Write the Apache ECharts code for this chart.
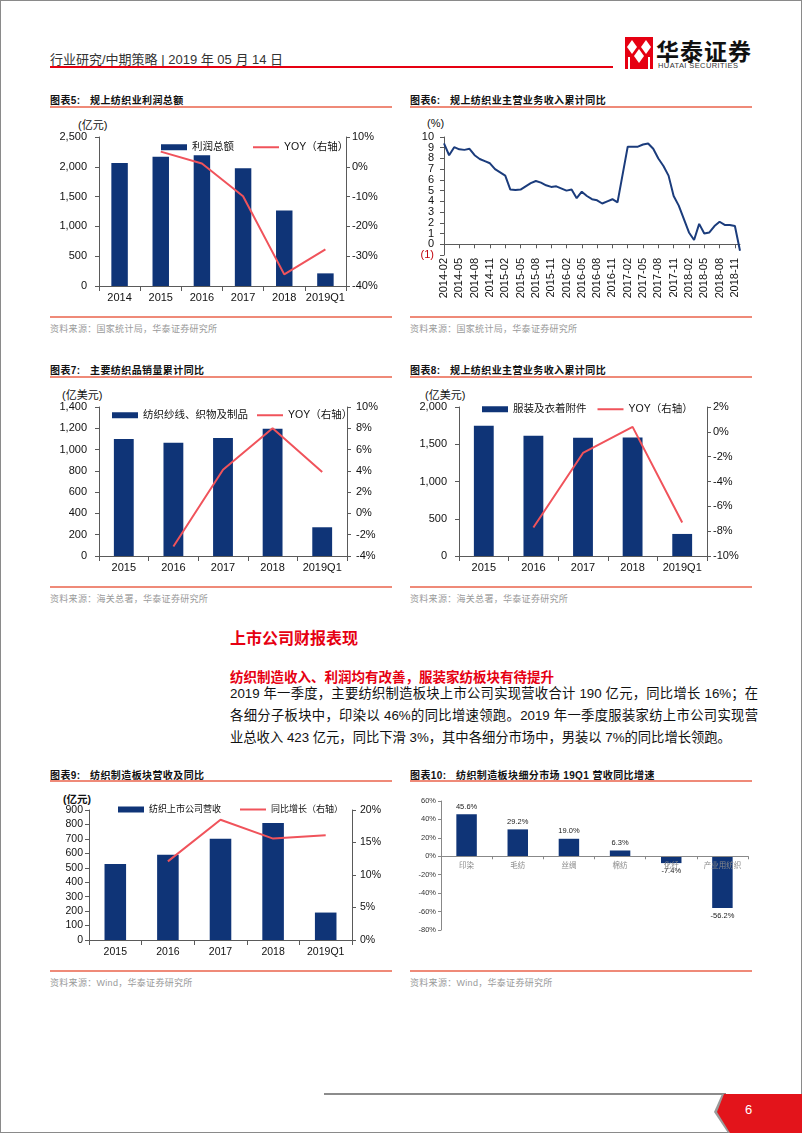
<!DOCTYPE html>
<html><head><meta charset="utf-8">
<script src="https://cdn.jsdelivr.net/npm/echarts@6/dist/echarts.min.js"></script>
<style>
html,body{margin:0;padding:0;background:#fff;}
body{width:802px;height:1133px;position:relative;overflow:hidden;font-family:"Liberation Sans","Noto Sans CJK SC",sans-serif;}
.frame{position:absolute;left:0;top:0;width:800px;height:1131px;border:1px solid #8a8a8a;}
.title{position:absolute;font-size:10px;font-weight:bold;color:#111;white-space:nowrap;letter-spacing:0.4px;}
.rl{position:absolute;height:1.5px;background:#ef8a78;width:342px;}
.src{position:absolute;font-size:9px;color:#9a9a9a;white-space:nowrap;letter-spacing:0.3px;}
.unit{position:absolute;font-size:11px;color:#111;white-space:nowrap;}
.ch{position:absolute;}
.body{position:absolute;left:230px;font-size:13.3px;line-height:22px;color:#111;white-space:nowrap;}
</style></head>
<body>
<div class="frame"></div>

<!-- header -->
<div style="position:absolute;left:50px;top:49px;font-size:13px;color:#333;white-space:nowrap;">行业研究/中期策略 | 2019 年 05 月 14 日</div>
<div style="position:absolute;left:50px;top:66px;width:563px;height:2px;background:#e60012;"></div>
<svg style="position:absolute;left:625px;top:37px;" width="28" height="32" viewBox="0 0 28 32">
  <rect x="0" y="0" width="28" height="32" fill="#e60012"/>
  <polygon points="7,3 12,10 7,17 2,10" fill="#fff"/>
  <polygon points="21,3 26,10 21,17 16,10" fill="#fff"/>
  <polygon points="14,12 19,19 14,26 9,19" fill="#fff"/>
  <rect x="3" y="20" width="2" height="12" fill="#fff"/>
  <rect x="23" y="20" width="2" height="12" fill="#fff"/>
</svg>
<div style="position:absolute;left:656px;top:33px;font-size:23px;font-weight:bold;color:#111;white-space:nowrap;letter-spacing:1px;font-family:'Noto Sans CJK SC';">华泰证券</div>
<div style="position:absolute;left:658px;top:61px;font-size:7.5px;color:#333;white-space:nowrap;letter-spacing:0.4px;">HUATAI SECURITIES</div>

<!-- panel titles -->
<div class="title" style="left:50px;top:92px;">图表5:&nbsp;&nbsp;&nbsp;规上纺织业利润总额</div>
<div class="rl" style="left:50px;top:106px;"></div>
<div class="title" style="left:410px;top:92px;">图表6:&nbsp;&nbsp;&nbsp;规上纺织业主营业务收入累计同比</div>
<div class="rl" style="left:410px;top:106px;"></div>
<div class="rl" style="left:50px;top:316px;"></div>
<div class="rl" style="left:410px;top:316px;"></div>
<div class="src" style="left:50px;top:322px;">资料来源：国家统计局，华泰证券研究所</div>
<div class="src" style="left:410px;top:322px;">资料来源：国家统计局，华泰证券研究所</div>

<div class="title" style="left:50px;top:362px;">图表7:&nbsp;&nbsp;&nbsp;主要纺织品销量累计同比</div>
<div class="rl" style="left:50px;top:376px;"></div>
<div class="title" style="left:410px;top:362px;">图表8:&nbsp;&nbsp;&nbsp;规上纺织业主营业务收入累计同比</div>
<div class="rl" style="left:410px;top:376px;"></div>
<div class="rl" style="left:50px;top:586px;"></div>
<div class="rl" style="left:410px;top:586px;"></div>
<div class="src" style="left:50px;top:592px;">资料来源：海关总署，华泰证券研究所</div>
<div class="src" style="left:410px;top:592px;">资料来源：海关总署，华泰证券研究所</div>

<!-- text section -->
<div style="position:absolute;left:230px;top:625px;font-size:16px;font-weight:bold;color:#e60012;white-space:nowrap;">上市公司财报表现</div>
<div style="position:absolute;left:230px;top:666px;font-size:13.5px;font-weight:bold;color:#e60012;white-space:nowrap;">纺织制造收入、利润均有改善，服装家纺板块有待提升</div>
<div class="body" style="top:683px;width:528px;text-align:justify;text-align-last:justify;">2019 年一季度，主要纺织制造板块上市公司实现营收合计 190 亿元，同比增长 16%；在</div>
<div class="body" style="top:705px;width:528px;text-align:justify;text-align-last:justify;">各细分子板块中，印染以 46%的同比增速领跑。2019 年一季度服装家纺上市公司实现营</div>
<div class="body" style="top:727px;">业总收入 423 亿元，同比下滑 3%，其中各细分市场中，男装以 7%的同比增长领跑。</div>

<div class="title" style="left:50px;top:767px;">图表9:&nbsp;&nbsp;&nbsp;纺织制造板块营收及同比</div>
<div class="rl" style="left:50px;top:780px;"></div>
<div class="title" style="left:410px;top:767px;">图表10:&nbsp;&nbsp;&nbsp;纺织制造板块细分市场 19Q1 营收同比增速</div>
<div class="rl" style="left:410px;top:780px;"></div>
<div class="rl" style="left:50px;top:970px;"></div>
<div class="rl" style="left:410px;top:970px;"></div>
<div class="src" style="left:50px;top:976px;">资料来源：Wind，华泰证券研究所</div>
<div class="src" style="left:410px;top:976px;">资料来源：Wind，华泰证券研究所</div>

<!-- units -->
<div class="unit" style="left:78px;top:116px;">(亿元)</div>
<div class="unit" style="left:427px;top:117px;">(%)</div>
<div class="unit" style="left:62px;top:386px;">(亿美元)</div>
<div class="unit" style="left:425px;top:386px;">(亿美元)</div>
<div class="unit" style="left:63px;top:791px;font-weight:bold;font-size:10.5px;">(亿元)</div>

<!-- footer -->
<div style="position:absolute;left:324px;top:1093px;width:402px;height:2px;background:#8c8c8c;"></div>
<svg style="position:absolute;left:700px;top:1090px;" width="102" height="43" viewBox="0 0 102 43">
  <polygon points="22,4 102,4 102,43 28,43 14,22" fill="#9a9a9a"/>
  <polygon points="24,4 102,4 102,43 30,43 17,22" fill="#e3141b"/>
</svg>
<div style="position:absolute;left:745px;top:1102px;font-size:13px;color:#fff;">6</div>

<script>
// ---------------- data ----------------
const c5Cats = ['2014', '2015', '2016', '2017', '2018', '2019Q1'];
const c5Profit = [2065, 2170, 2195, 1975, 1265, 212];
const c5Yoy = [null, 5.1, 1.1, -9.9, -36.1, -27.7];

const c6Years = ['2014', '2015', '2016', '2017', '2018'];
const c6Y2014 = [9.4, 8.3, 9.05, 8.85, 8.8, 8.9, 8.3, 7.95, 7.75, 7.55, 7.0]; // Feb-Dec
const c6Y2015 = [null, 6.4, 5.1, 5.05, 5.1, 5.4, 5.7, 5.9, 5.75, 5.5, 5.35, 5.4];
const c6Y2016 = [null, 5.0, 5.1, 4.3, 4.9, 4.5, 4.2, 4.1, 3.8, 4.0, 4.2, 3.9];
const c6Y2017 = [null, 9.1, 9.1, 9.1, 9.3, 9.4, 8.9, 8.0, 7.3, 6.4, 4.5, 3.6];
const c6Y2018 = [null, 1.1, 0.4, 1.9, 1.0, 1.1, 1.7, 2.1, 1.8, 1.8, 1.7, -0.6];
const c6YTicks = ['(1)', '0', '1', '2', '3', '4', '5', '6', '7', '8', '9', '10'];

const c7Cats = ['2015', '2016', '2017', '2018', '2019Q1'];
const c7Exports = [1099, 1064, 1108, 1196, 270];
const c7Yoy = [null, -3.1, 4.1, 8.0, 3.9];

const c8Cats = ['2015', '2016', '2017', '2018', '2019Q1'];
const c8Exports = [1749, 1614, 1587, 1592, 296];
const c8Yoy = [null, -7.7, -1.7, 0.4, -7.3];

const c9Cats = ['2015', '2016', '2017', '2018', '2019Q1'];
const c9Revenue = [527, 590, 701, 810, 190];
const c9Yoy = [null, 12.1, 18.5, 15.6, 16.1];

const c10Cats = ['印染', '毛纺', '丝绸', '棉纺', '化纤', '产业用纺织'];
const c10Growth = [45.6, 29.2, 19.0, 6.3, -7.4, -56.2];

// ---------------- helpers ----------------
const FONT = '"Liberation Sans","Noto Sans CJK SC",sans-serif';
const NAVY = '#0f3477';
const RED = '#f0535b';
const AX = '#5a5a5a';

function mk(box, option) {
  const d = document.createElement('div');
  d.className = 'ch';
  d.style.left = box.x + 'px'; d.style.top = box.y + 'px';
  d.style.width = box.w + 'px'; d.style.height = box.h + 'px';
  document.body.appendChild(d);
  const c = echarts.init(d, null, {renderer: 'canvas'});
  c.setOption(option);
}
function gridOf(box, l, t, r, b) {
  return {left: l - box.x, top: t - box.y, width: r - l, height: b - t, containLabel: false, outerBoundsMode: 'none'};
}
function axisBase(extra) {
  return Object.assign({
    axisLine: {show: true, lineStyle: {color: AX, width: 1}},
    axisTick: {show: true, length: 4, lineStyle: {color: AX}},
    splitLine: {show: false}
  }, extra);
}
const thou = v => v.toLocaleString('en-US');

function barLine(cfg) {
  const box = cfg.box;
  const fs = cfg.fs || 11;
  const lfs = cfg.lfs || 10.5;
  mk(box, {
    animation: false,
    textStyle: {fontFamily: FONT},
    grid: gridOf(box, cfg.g[0], cfg.g[1], cfg.g[2], cfg.g[3]),
    legend: {
      left: cfg.legend[0] - box.x, top: cfg.legend[1] - box.y,
      itemWidth: 26, itemHeight: 6, itemGap: cfg.legendGap,
      textStyle: {fontSize: lfs, color: '#111', fontFamily: FONT},
      data: [{name: cfg.barName, icon: 'rect'}, {name: cfg.lineName, itemStyle: {opacity: 0}}]
    },
    xAxis: axisBase({
      type: 'category', data: cfg.cats,
      axisTick: {show: true, length: 5, lineStyle: {color: AX}},
      axisLabel: {interval: 0, fontSize: fs, color: '#111', margin: cfg.xMargin || 6, fontFamily: FONT}
    }),
    yAxis: [
      axisBase({type: 'value', position: 'left', min: cfg.left[0], max: cfg.left[1], interval: cfg.left[2],
        axisLabel: {fontSize: fs, color: '#111', margin: cfg.lm, formatter: thou, fontFamily: FONT,
          showMinLabel: true, showMaxLabel: true}}),
      axisBase({type: 'value', position: 'right', min: cfg.right[0], max: cfg.right[1], interval: cfg.right[2],
        axisLabel: {fontSize: fs, color: '#111', margin: cfg.rm, formatter: v => v + '%', fontFamily: FONT,
          showMinLabel: true, showMaxLabel: true}})
    ],
    series: [
      {name: cfg.barName, type: 'bar', data: cfg.bars, yAxisIndex: 0, barWidth: cfg.barWidth || '40%',
        itemStyle: {color: NAVY}},
      {name: cfg.lineName, type: 'line', data: cfg.line, yAxisIndex: 1, symbol: 'none',
        lineStyle: {color: RED, width: 2}, itemStyle: {color: RED}}
    ]
  });
}

// Chart 5
barLine({box: {x: 45, y: 108, w: 355, h: 206}, g: [99, 137, 346, 286],
  cats: c5Cats, bars: c5Profit, line: c5Yoy, barName: '利润总额', lineName: 'YOY（右轴）',
  left: [0, 2500, 500], right: [-40, 10, 10], lm: 12, rm: 6, legend: [156, 137], legendGap: 18});

// Chart 7
barLine({box: {x: 45, y: 380, w: 355, h: 205}, g: [99, 407, 347, 556],
  cats: c7Cats, bars: c7Exports, line: c7Yoy, barName: '纺织纱线、织物及制品', lineName: 'YOY（右轴）',
  left: [0, 1400, 200], right: [-4, 10, 2], lm: 12, rm: 9, legend: [107, 405], legendGap: 8});

// Chart 8
barLine({box: {x: 405, y: 380, w: 355, h: 205}, g: [459, 407, 707, 556],
  cats: c8Cats, bars: c8Exports, line: c8Yoy, barName: '服装及衣着附件', lineName: 'YOY（右轴）',
  left: [0, 2000, 500], right: [-10, 2, 2], lm: 12, rm: 6, legend: [477, 399], legendGap: 10});

// Chart 9
barLine({box: {x: 45, y: 785, w: 355, h: 185}, g: [89, 810, 352, 940], fs: 10.5, lfs: 9,
  cats: c9Cats, bars: c9Revenue, line: c9Yoy, barName: '纺织上市公司营收', lineName: '同比增长（右轴）',
  left: [0, 900, 100], right: [0, 20, 5], lm: 6, rm: 8, legend: [113, 800], legendGap: 18, xMargin: 7, barWidth: '41%'});

// Chart 6
(function () {
  const box = {x: 405, y: 110, w: 355, h: 205};
  const G = [444, 137, 740, 255];
  const yMin = -1, yMax = 10;
  const months = [];
  const values = [];
  const yearData = [c6Y2014, c6Y2015, c6Y2016, c6Y2017, c6Y2018];
  c6Years.forEach((y, yi) => {
    const arr = yearData[yi];
    const startMonth = 13 - arr.length;
    arr.forEach((v, i) => {
      const m = startMonth + i;
      months.push(y + '-' + (m < 10 ? '0' + m : '' + m));
      values.push(v);
    });
  });
  const every3 = (i) => i % 3 === 0;
  const zeroOffset = -(G[3] - G[1]) * (yMax - 0) / (yMax - yMin);
  mk(box, {
    animation: false,
    textStyle: {fontFamily: FONT},
    grid: gridOf(box, G[0], G[1], G[2], G[3]),
    xAxis: [
      {type: 'category', data: months, boundaryGap: false, position: 'bottom',
        axisLine: {show: false, onZero: false}, axisTick: {show: false}, splitLine: {show: false},
        axisLabel: {rotate: 90, interval: every3, fontSize: 11, color: '#111', margin: 3, fontFamily: FONT}},
      {type: 'category', data: months, boundaryGap: false, position: 'top', offset: zeroOffset,
        axisLine: {show: true, onZero: false, lineStyle: {color: AX}},
        axisTick: {show: true, inside: true, length: 4, interval: every3, lineStyle: {color: AX}},
        axisLabel: {show: false}, splitLine: {show: false}}
    ],
    yAxis: [
      axisBase({type: 'value', min: yMin, max: yMax, interval: 1,
        axisLabel: {show: false}}),
      {type: 'category', data: c6YTicks, boundaryGap: false, position: 'left',
        axisLine: {show: false}, axisTick: {show: false}, splitLine: {show: false},
        axisLabel: {interval: 0, fontSize: 11, color: '#111', margin: 10, fontFamily: FONT,
          formatter: v => v.charAt(0) === '(' ? '{neg|' + v + '}' : v,
          rich: {neg: {color: '#c0000b', fontSize: 11, fontFamily: FONT}}}}
    ],
    series: [{type: 'line', data: values, xAxisIndex: 0, yAxisIndex: 0, symbol: 'none', connectNulls: true,
      lineStyle: {color: '#1b3c7c', width: 2}}]
  });
})();

// Chart 10
(function () {
  const box = {x: 405, y: 785, w: 355, h: 185};
  const G = [441, 801, 748, 930];
  const yMin = -80, yMax = 60;
  const zeroOffset = -(G[3] - G[1]) * (0 - yMin) / (yMax - yMin);
  mk(box, {
    animation: false,
    textStyle: {fontFamily: FONT},
    grid: gridOf(box, G[0], G[1], G[2], G[3]),
    xAxis: {type: 'category', data: c10Cats, position: 'bottom', offset: zeroOffset, zlevel: 1,
      axisLine: {show: true, onZero: false, lineStyle: {color: '#888'}},
      axisTick: {show: true, length: 3, lineStyle: {color: '#888'}},
      axisLabel: {interval: 0, fontSize: 7.5, color: '#8a8a8a', margin: 6, fontFamily: FONT}},
    yAxis: {type: 'value', min: yMin, max: yMax, interval: 20,
      axisLine: {show: true, lineStyle: {color: '#888'}},
      axisTick: {show: true, length: 3, lineStyle: {color: '#888'}},
      splitLine: {show: false},
      axisLabel: {fontSize: 7.5, color: '#333', margin: 5, formatter: v => v + '%', fontFamily: FONT,
        showMinLabel: true, showMaxLabel: true}},
    series: [{type: 'bar', barWidth: '40%', itemStyle: {color: NAVY},
      data: c10Growth.map(v => ({value: v, label: {position: v < 0 ? 'bottom' : 'top'}})),
      label: {show: true, fontSize: 7.5, color: '#222', distance: 4, fontFamily: FONT,
        formatter: p => p.value.toFixed(1) + '%'}}]
  });
})();
</script>
</body></html>
